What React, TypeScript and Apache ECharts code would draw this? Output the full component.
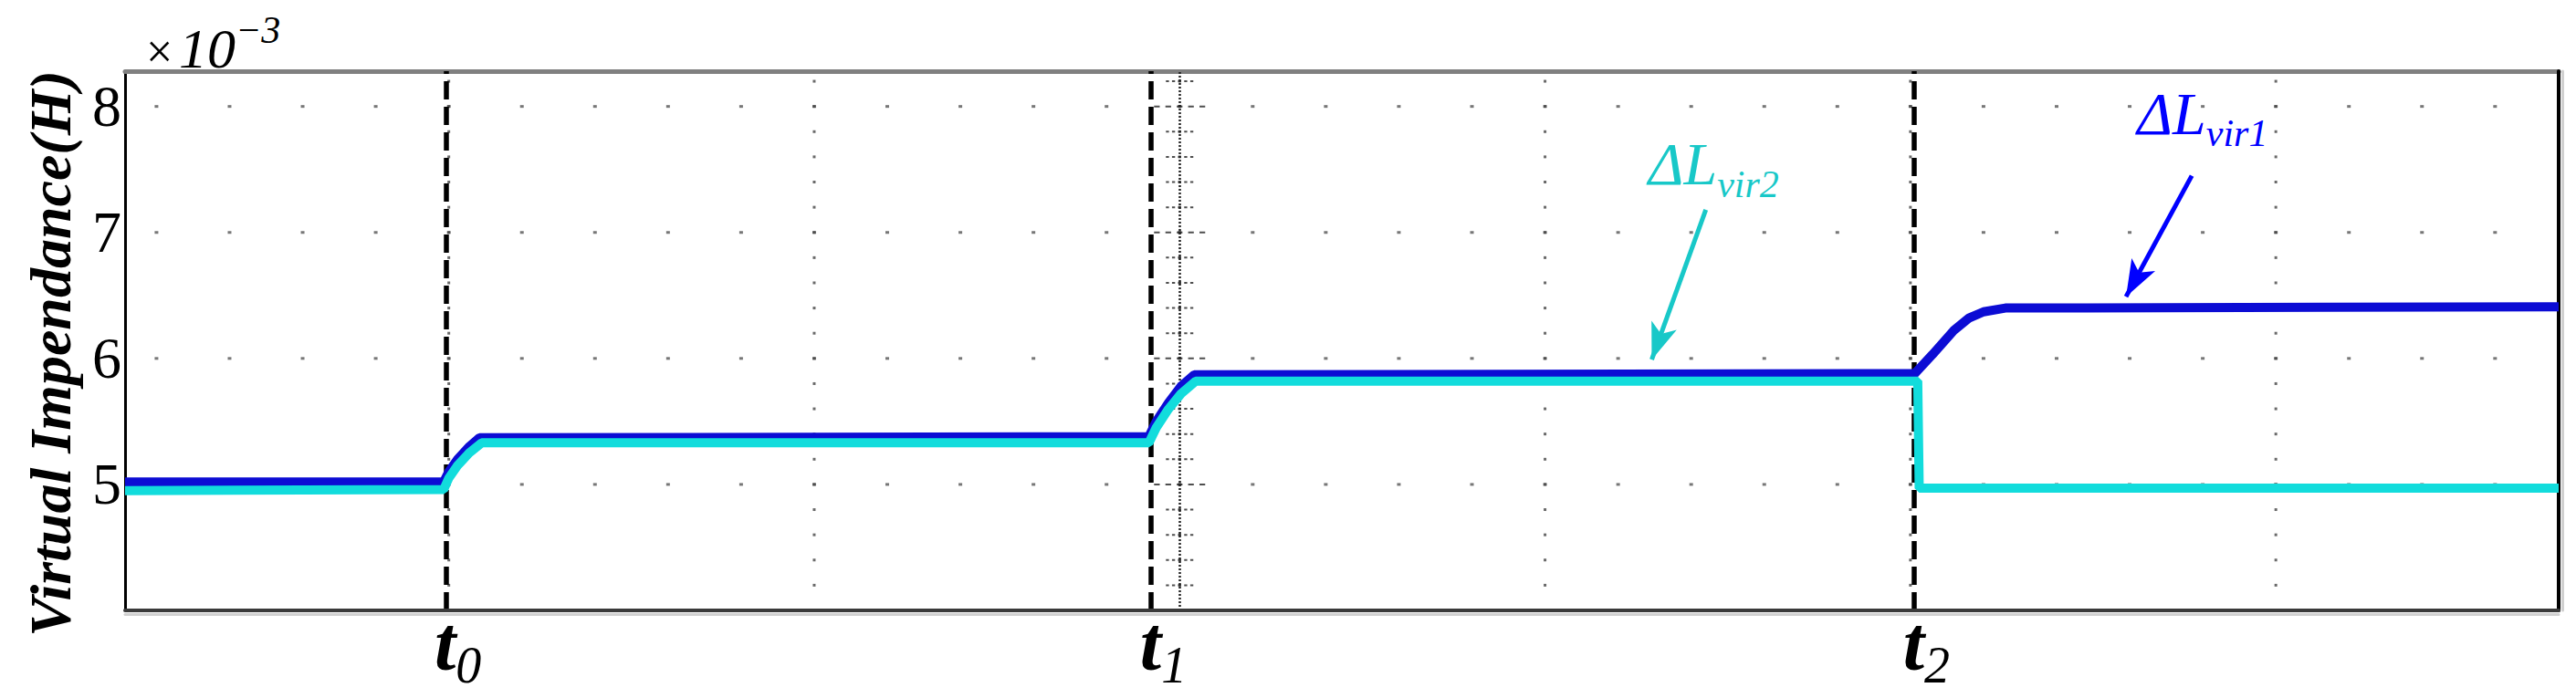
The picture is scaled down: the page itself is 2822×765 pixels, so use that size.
import React, { useEffect, useRef } from 'react';
import * as echarts from 'echarts';

// ---- axes ----
const X_MIN = -0.43;
const X_MAX = 32.87;
const Y_MIN = 4;
const Y_MAX = 8.28;
const yTickValues = [5, 6, 7, 8];

// grid dot columns (minor) and dotted major columns
const gridCols = [0, 1, 2, 3, 4, 5, 6, 7, 8, 9, 10, 11, 12, 13, 14, 15, 16, 17, 18, 19, 20, 21, 22, 23, 24, 25, 26, 27, 28, 29, 30, 31, 32];
const majorCols = [4, 9, 14, 19, 24, 29];
const denseCol = 14;
const dotRows = [4.2, 4.4, 4.6, 4.8, 5.0, 5.2, 5.4, 5.6, 5.8, 6.0, 6.2, 6.4, 6.6, 6.8, 7.0, 7.2, 7.4, 7.6, 7.8, 8.0, 8.2];

// event instants
const eventTimes = [3.955, 13.61, 24.05];
const eventSubs = ['0', '1', '2'];

// ΔLvir1 (blue)
const vir1X = [-0.43, 3.93, 4.0, 4.12, 4.28, 4.42, 13.58, 13.68, 13.85, 14.02, 14.2, 24.06, 24.3, 24.59, 24.8, 25.0, 25.3, 32.87];
const vir1Y = [5.02, 5.02, 5.1, 5.2, 5.3, 5.37, 5.38, 5.5, 5.65, 5.78, 5.87, 5.88, 6.03, 6.22, 6.32, 6.37, 6.4, 6.41];

// ΔLvir2 (cyan)
const vir2X = [-0.43, 3.93, 4.0, 4.12, 4.28, 4.45, 13.58, 13.68, 13.85, 14.02, 14.22, 24.1, 24.12, 32.87];
const vir2Y = [4.95, 4.96, 5.05, 5.15, 5.25, 5.33, 5.33, 5.45, 5.6, 5.72, 5.82, 5.82, 4.97, 4.97];

// annotation arrows [start, tip]
const arrow1 = [[27.85, 7.45], [26.95, 6.49]];
const arrow2 = [[21.2, 7.18], [20.46, 5.99]];
const label1At = [27.11, 8.18];
const label2At = [20.42, 7.78];

const BLUE = '#0c0cd4';
const CYAN = '#12dcdc';
const SERIF = "'Times New Roman', 'Liberation Serif', Tinos, 'DejaVu Serif', serif";

export default function App() {
  const ref = useRef<HTMLDivElement>(null);

  useEffect(() => {
    if (!ref.current) return;
    const chart = echarts.init(ref.current, null, { renderer: 'svg' });

    const gridDots: number[][] = [];
    gridCols.forEach((c) => yTickValues.forEach((r) => gridDots.push([c, r])));
    const majorDots: number[][] = [];
    majorCols.forEach((c) => dotRows.forEach((r) => majorDots.push([c, r])));
    const denseSmall = dotRows.filter((r) => Math.abs(r - Math.round(r)) > 0.01).map((r) => [denseCol, r]);
    const denseBig = dotRows.filter((r) => Math.abs(r - Math.round(r)) <= 0.01).map((r) => [denseCol, r]);

    const vir1 = vir1X.map((x, i) => [x, vir1Y[i]]);
    const vir2 = vir2X.map((x, i) => [x, vir2Y[i]]);

    const dashPath = 'path://M0,0h3v2h-3z M6,0h3v2h-3z M12,0h3v2h-3z M18,0h3v2h-3z M24,0h3v2h-3z';
    const frameOnly = { axisTick: { show: false }, axisLabel: { show: false }, splitLine: { show: false } };

    chart.setOption({
      animation: false,
      backgroundColor: '#ffffff',
      textStyle: { fontFamily: SERIF },
      grid: { left: 137, right: 19, top: 78, bottom: 96, containLabel: false },
      xAxis: [
        {
          type: 'value',
          min: X_MIN,
          max: X_MAX,
          position: 'bottom',
          z: 4,
          axisLine: { show: true, onZero: false, lineStyle: { color: '#3a3a3a', width: 4 } },
          axisTick: { show: false },
          splitLine: { show: false },
          axisLabel: {
            show: true,
            customValues: eventTimes,
            margin: -6,
            align: 'center',
            padding: [0, 0, 0, 27],
            formatter: (v: number) => {
              const i = eventTimes.findIndex((t) => Math.abs(t - v) < 1e-6);
              return i >= 0 ? `{t|t}{s|${eventSubs[i]}}` : '';
            },
            rich: {
              t: { fontFamily: SERIF, fontSize: 84, fontWeight: 'bold', fontStyle: 'italic', color: '#000', verticalAlign: 'top', lineHeight: 94 },
              s: { fontFamily: SERIF, fontSize: 56, fontStyle: 'italic', color: '#000', verticalAlign: 'bottom', lineHeight: 94 },
            },
          },
        },
        {
          type: 'value',
          min: X_MIN,
          max: X_MAX,
          position: 'top',
          axisLine: { show: true, onZero: false, lineStyle: { color: '#808080', width: 5 } },
          ...frameOnly,
        },
        {
          type: 'value',
          min: X_MIN,
          max: X_MAX,
          position: 'bottom',
          offset: 4,
          z: 1,
          axisLine: { show: true, onZero: false, lineStyle: { color: '#d0d0d0', width: 3 } },
          ...frameOnly,
        },
      ],
      yAxis: [
        {
          type: 'value',
          min: Y_MIN,
          max: Y_MAX,
          interval: 1,
          position: 'left',
          name: 'Virtual Impendance(H)',
          nameLocation: 'middle',
          nameRotate: 90,
          nameGap: 50,
          nameTextStyle: {
            fontFamily: SERIF,
            fontSize: 64,
            fontWeight: 'bold',
            fontStyle: 'italic',
            color: '#000',
            padding: [0, 28, 0, 0],
          },
          axisLine: { show: true, onZero: false, lineStyle: { color: '#000', width: 3 } },
          axisTick: { show: false },
          splitLine: { show: false },
          axisLabel: {
            margin: 4,
            fontFamily: SERIF,
            fontSize: 64,
            color: '#000',
            formatter: (v: number) => (yTickValues.indexOf(v) >= 0 ? String(v) : ''),
          },
        },
        {
          type: 'value',
          min: Y_MIN,
          max: Y_MAX,
          position: 'right',
          z: 4,
          axisLine: { show: true, onZero: false, lineStyle: { color: '#000', width: 4 } },
          ...frameOnly,
        },
        {
          type: 'value',
          min: Y_MIN,
          max: Y_MAX,
          position: 'right',
          offset: 4,
          z: 1,
          axisLine: { show: true, onZero: false, lineStyle: { color: '#d0d0d0', width: 3 } },
          ...frameOnly,
        },
      ],
      graphic: [
        { type: 'text', left: 160, top: 30, style: { text: '×', fontFamily: SERIF, fontSize: 52, fill: '#000' }, z: 10 },
        { type: 'text', left: 196, top: 22, style: { text: '10', fontFamily: SERIF, fontSize: 62, fontStyle: 'italic', fill: '#000' }, z: 10 },
        { type: 'text', left: 258, top: 12, style: { text: '−3', fontFamily: SERIF, fontSize: 42, fontStyle: 'italic', fill: '#000' }, z: 10 },
      ],
      series: [
        {
          type: 'scatter',
          silent: true,
          symbol: 'rect',
          symbolSize: [4, 3],
          itemStyle: { color: '#555' },
          data: gridDots,
          z: 1,
          markLine: {
            silent: true,
            symbol: ['none', 'none'],
            label: { show: false },
            lineStyle: { color: '#000', width: 5.5, type: [20, 8] },
            data: [
              ...eventTimes.map((t) => ({ xAxis: t })),
              { xAxis: denseCol, lineStyle: { color: '#222', width: 2.5, type: [2, 2] } },
            ],
            z: 2,
          },
        },
        {
          type: 'scatter',
          silent: true,
          symbol: 'rect',
          symbolSize: [3, 3],
          itemStyle: { color: '#444' },
          data: majorDots,
          z: 1,
        },
        {
          type: 'scatter',
          silent: true,
          symbol: dashPath,
          symbolSize: [30, 2],
          itemStyle: { color: '#222' },
          data: denseSmall,
          z: 1,
        },
        {
          type: 'scatter',
          silent: true,
          symbol: dashPath,
          symbolSize: [56, 2],
          itemStyle: { color: '#222' },
          data: denseBig,
          z: 1,
        },
        {
          name: 'ΔLvir1',
          type: 'line',
          data: vir1,
          showSymbol: false,
          symbol: 'none',
          lineStyle: { color: BLUE, width: 10 },
          z: 5,
          markLine: {
            silent: true,
            symbol: ['none', 'arrow'],
            symbolSize: [22, 40],
            label: { show: false },
            lineStyle: { color: '#0000ff', width: 5, type: 'solid' },
            data: [[{ coord: arrow1[0] }, { coord: arrow1[1] }]],
          },
          markPoint: {
            silent: true,
            symbol: 'rect',
            symbolSize: 1,
            itemStyle: { color: 'rgba(0,0,0,0)' },
            data: [
              {
                coord: label1At,
                label: {
                  show: true,
                  position: [0, 0],
                  align: 'left',
                  verticalAlign: 'top',
                  formatter: '{a|ΔL}{b|vir1}',
                  rich: {
                    a: { fontFamily: SERIF, fontSize: 66, fontStyle: 'italic', color: '#0000ff', verticalAlign: 'top', lineHeight: 76 },
                    b: { fontFamily: SERIF, fontSize: 42, fontStyle: 'italic', color: '#0000ff', verticalAlign: 'bottom', lineHeight: 76 },
                  },
                },
              },
            ],
          },
        },
        {
          name: 'ΔLvir2',
          type: 'line',
          data: vir2,
          showSymbol: false,
          symbol: 'none',
          lineStyle: { color: CYAN, width: 10 },
          z: 6,
          markLine: {
            silent: true,
            symbol: ['none', 'arrow'],
            symbolSize: [22, 40],
            label: { show: false },
            lineStyle: { color: '#18c8c8', width: 5, type: 'solid' },
            data: [[{ coord: arrow2[0] }, { coord: arrow2[1] }]],
          },
          markPoint: {
            silent: true,
            symbol: 'rect',
            symbolSize: 1,
            itemStyle: { color: 'rgba(0,0,0,0)' },
            data: [
              {
                coord: label2At,
                label: {
                  show: true,
                  position: [0, 0],
                  align: 'left',
                  verticalAlign: 'top',
                  formatter: '{a|ΔL}{b|vir2}',
                  rich: {
                    a: { fontFamily: SERIF, fontSize: 66, fontStyle: 'italic', color: '#18c8c8', verticalAlign: 'top', lineHeight: 76 },
                    b: { fontFamily: SERIF, fontSize: 42, fontStyle: 'italic', color: '#18c8c8', verticalAlign: 'bottom', lineHeight: 76 },
                  },
                },
              },
            ],
          },
        },
      ],
    });

    return () => chart.dispose();
  }, []);

  return (
    <div
      ref={ref}
      style={{ position: 'fixed', left: 0, top: 0, width: 2822, height: 765, background: '#fff' }}
    />
  );
}
